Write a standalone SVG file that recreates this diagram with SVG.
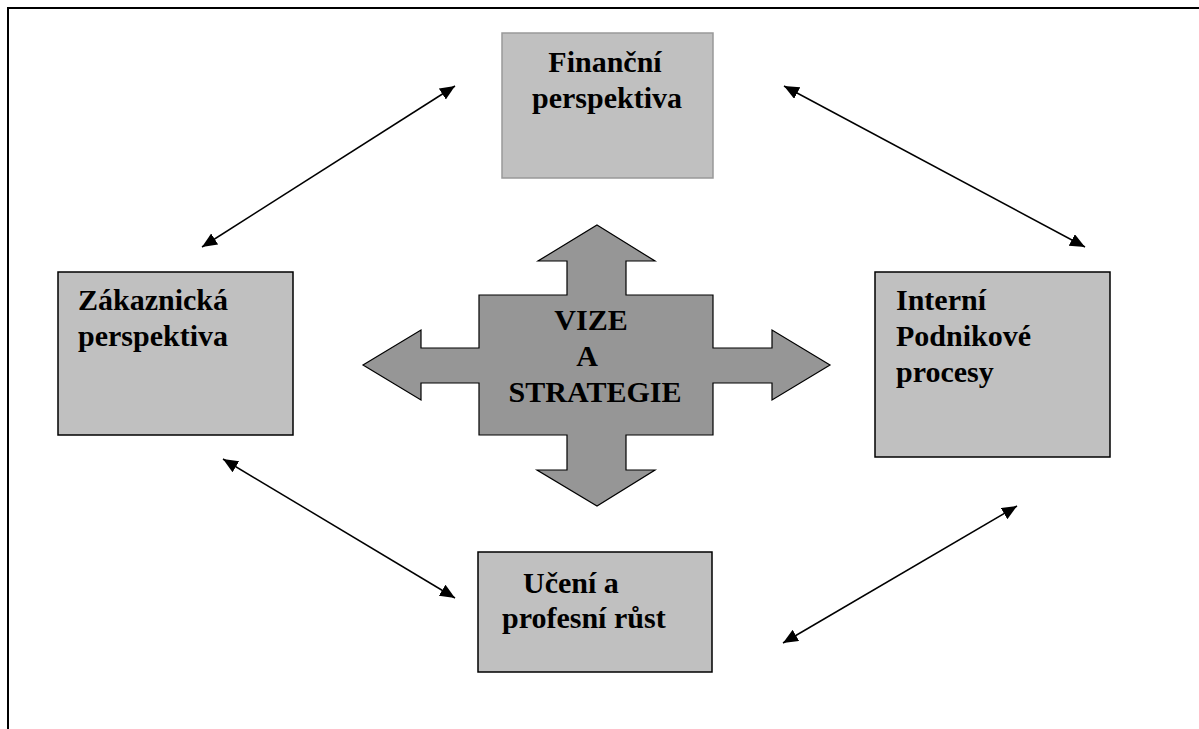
<svg xmlns="http://www.w3.org/2000/svg" width="1199" height="729" viewBox="0 0 1199 729">
  <defs>
    <marker id="head" markerUnits="userSpaceOnUse" markerWidth="16" markerHeight="14" refX="15" refY="6.5" orient="auto-start-reverse">
      <path d="M0,0 L15,6.5 L0,13 Z" fill="#000"/>
    </marker>
    <style>
      .box { fill: #c0c0c0; stroke: #000; stroke-width: 1.5; }
      .box-light { fill: #c0c0c0; stroke: #999; stroke-width: 1.5; }
      .lbl { font-family: "Liberation Serif", "Times New Roman", serif; font-weight: bold; font-size: 30px; fill: #000; }
      .link { stroke: #000; stroke-width: 1.5; fill: none; marker-start: url(#head); marker-end: url(#head); }
      .cross { fill: #969696; stroke: #000; stroke-width: 1.2; stroke-linejoin: miter; }
    </style>
  </defs>

  <rect width="1199" height="729" fill="#fff"/>

  <!-- frame: top and left rules -->
  <path d="M8,729 V8 H1199" fill="none" stroke="#000" stroke-width="2"/>

  <!-- connectors -->
  <g id="connectors">
    <line class="link" x1="202" y1="247" x2="455" y2="86"/>
    <line class="link" x1="784" y1="86" x2="1085" y2="247"/>
    <line class="link" x1="223" y1="459" x2="455" y2="598"/>
    <line class="link" x1="783" y1="643" x2="1017" y2="506"/>
  </g>

  <g id="financni">
    <rect class="box-light" x="502" y="33" width="211" height="145"/>
    <text class="lbl" text-anchor="middle" x="605" y="72">Finanční</text>
    <text class="lbl" text-anchor="middle" x="607" y="108">perspektiva</text>
  </g>

  <g id="zakaznicka">
    <rect class="box" x="58" y="272" width="235" height="163"/>
    <text class="lbl" x="78" y="310">Zákaznická</text>
    <text class="lbl" x="78" y="346">perspektiva</text>
  </g>

  <g id="interni">
    <rect class="box" x="875" y="272" width="235" height="185"/>
    <text class="lbl" x="896" y="310">Interní</text>
    <text class="lbl" x="896" y="346">Podnikové</text>
    <text class="lbl" x="896" y="382">procesy</text>
  </g>

  <g id="uceni">
    <rect class="box" x="478" y="552" width="234" height="120"/>
    <text class="lbl" x="523" y="593">Učení a</text>
    <text class="lbl" x="502" y="628">profesní růst</text>
  </g>

  <g id="vize">
    <path class="cross" d="M597,225 L655,261 L626,261 L626,295 L713,295 L713,348 L772,348 L772,330 L830,365 L772,400 L772,383 L713,383 L713,435 L626,435 L626,470 L655,470 L597,506 L537,470 L567,470 L567,435 L479,435 L479,383 L421,383 L421,400 L363,365 L421,330 L421,348 L479,348 L479,295 L567,295 L567,261 L538,261 Z"/>
    <text class="lbl" text-anchor="middle" x="591" y="330">VIZE</text>
    <text class="lbl" text-anchor="middle" x="587" y="366">A</text>
    <text class="lbl" text-anchor="middle" x="595" y="402">STRATEGIE</text>
  </g>
</svg>
